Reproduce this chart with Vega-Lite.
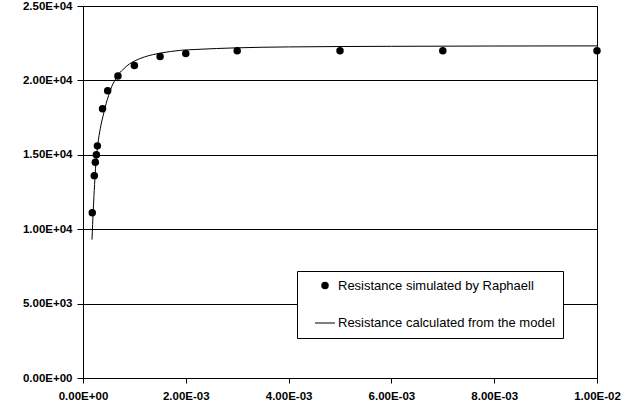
{
  "$schema": "https://vega.github.io/schema/vega-lite/v6.json",
  "width": 514,
  "height": 372,
  "autosize": "none",
  "padding": {"left": 83, "top": 6, "right": 45, "bottom": 30},
  "background": "white",
  "config": {
    "view": {"stroke": "black", "strokeWidth": 1},
    "font": "Liberation Sans",
    "axis": {
      "labelFont": "Liberation Sans",
      "labelFontWeight": "bold",
      "labelFontSize": 11.5,
      "labelColor": "black",
      "labelFlush": false,
      "domainColor": "black",
      "tickColor": "black",
      "title": null,
      "labelExpr": "replace(replace(format(datum.value, '.2e'), 'e+', 'E+0'), 'e-', 'E-0')"
    }
  },
  "layer": [
    {
      "data": {
        "values": [
          {"x": 0.000175, "r": 9300},
          {"x": 0.0002, "r": 11300},
          {"x": 0.000225, "r": 13000},
          {"x": 0.00025, "r": 14400},
          {"x": 0.000275, "r": 15300},
          {"x": 0.0003, "r": 16000},
          {"x": 0.00035, "r": 17000},
          {"x": 0.0004, "r": 17750},
          {"x": 0.00045, "r": 18450},
          {"x": 0.0005, "r": 19000},
          {"x": 0.00056, "r": 19600},
          {"x": 0.00062, "r": 20000},
          {"x": 0.0007, "r": 20450},
          {"x": 0.0008, "r": 20800},
          {"x": 0.0009, "r": 21100},
          {"x": 0.001, "r": 21300},
          {"x": 0.0012, "r": 21580},
          {"x": 0.0015, "r": 21830},
          {"x": 0.0019, "r": 22020},
          {"x": 0.0022, "r": 22080},
          {"x": 0.003, "r": 22190},
          {"x": 0.004, "r": 22250},
          {"x": 0.006, "r": 22290},
          {"x": 0.008, "r": 22310},
          {"x": 0.01, "r": 22320}
        ]
      },
      "mark": {"type": "line", "color": "black", "strokeWidth": 1, "interpolate": "monotone"},
      "encoding": {
        "x": {
          "field": "x", "type": "quantitative",
          "scale": {"domain": [0, 0.01], "nice": false, "zero": false},
          "axis": {"values": [0, 0.002, 0.004, 0.006, 0.008, 0.01], "grid": false, "tickSize": 5, "labelPadding": 7}
        },
        "y": {
          "field": "r", "type": "quantitative",
          "scale": {"domain": [0, 25000], "nice": false},
          "axis": {"values": [0, 5000, 10000, 15000, 20000, 25000], "grid": true, "gridColor": "black", "gridOpacity": 1, "tickSize": 6, "labelPadding": 5}
        }
      }
    },
    {
      "data": {
        "values": [
          {"x": 0.00018, "r": 11100, "series": "Resistance simulated by Raphaell"},
          {"x": 0.00022, "r": 13600, "series": "Resistance simulated by Raphaell"},
          {"x": 0.00024, "r": 14500, "series": "Resistance simulated by Raphaell"},
          {"x": 0.00026, "r": 15000, "series": "Resistance simulated by Raphaell"},
          {"x": 0.00028, "r": 15600, "series": "Resistance simulated by Raphaell"},
          {"x": 0.00038, "r": 18100, "series": "Resistance simulated by Raphaell"},
          {"x": 0.00048, "r": 19300, "series": "Resistance simulated by Raphaell"},
          {"x": 0.00068, "r": 20300, "series": "Resistance simulated by Raphaell"},
          {"x": 0.001, "r": 21000, "series": "Resistance simulated by Raphaell"},
          {"x": 0.0015, "r": 21600, "series": "Resistance simulated by Raphaell"},
          {"x": 0.002, "r": 21800, "series": "Resistance simulated by Raphaell"},
          {"x": 0.003, "r": 22000, "series": "Resistance simulated by Raphaell"},
          {"x": 0.005, "r": 22000, "series": "Resistance simulated by Raphaell"},
          {"x": 0.007, "r": 22000, "series": "Resistance simulated by Raphaell"},
          {"x": 0.01, "r": 22000, "series": "Resistance simulated by Raphaell"}
        ]
      },
      "mark": {"type": "point", "filled": true, "color": "black", "opacity": 1, "clip": false},
      "encoding": {
        "x": {"field": "x", "type": "quantitative"},
        "y": {"field": "r", "type": "quantitative"},
        "shape": {
          "field": "series", "type": "nominal",
          "scale": {"domain": ["Resistance simulated by Raphaell", "Resistance calculated from the model"], "range": ["circle", "M-1,-0.05L1,-0.05L1,0.05L-1,0.05Z"]},
          "legend": {
            "orient": "none", "legendX": 214, "legendY": 265, "title": null,
            "fillColor": "white", "strokeColor": "black", "padding": 8, "symbolOffset": 10,
            "labelFont": "Liberation Sans", "labelFontSize": 13, "labelColor": "black", "labelLimit": 400, "labelOffset": 3,
            "labelExpr": "datum.label + '\u00a0\u00a0'",
            "symbolFillColor": "black", "symbolStrokeColor": "black", "symbolStrokeWidth": 0,
            "symbolOpacity": 1, "rowPadding": 20,
            "encode": {"symbols": {"update": {"fill": {"value": "black"}, "fillOpacity": {"value": 1}, "opacity": {"value": 1}}}}
          }
        },
        "size": {
          "field": "series", "type": "nominal",
          "scale": {"domain": ["Resistance simulated by Raphaell", "Resistance calculated from the model"], "range": [56, 400]},
          "legend": {
            "orient": "none", "legendX": 214, "legendY": 265, "title": null,
            "fillColor": "white", "strokeColor": "black", "padding": 8, "symbolOffset": 10,
            "labelFont": "Liberation Sans", "labelFontSize": 13, "labelColor": "black", "labelLimit": 400, "labelOffset": 3,
            "labelExpr": "datum.label + '\u00a0\u00a0'",
            "symbolFillColor": "black", "symbolStrokeColor": "black", "symbolStrokeWidth": 0,
            "symbolOpacity": 1, "rowPadding": 20,
            "encode": {"symbols": {"update": {"fill": {"value": "black"}, "fillOpacity": {"value": 1}, "opacity": {"value": 1}}}}
          }
        }
      }
    }
  ]
}
